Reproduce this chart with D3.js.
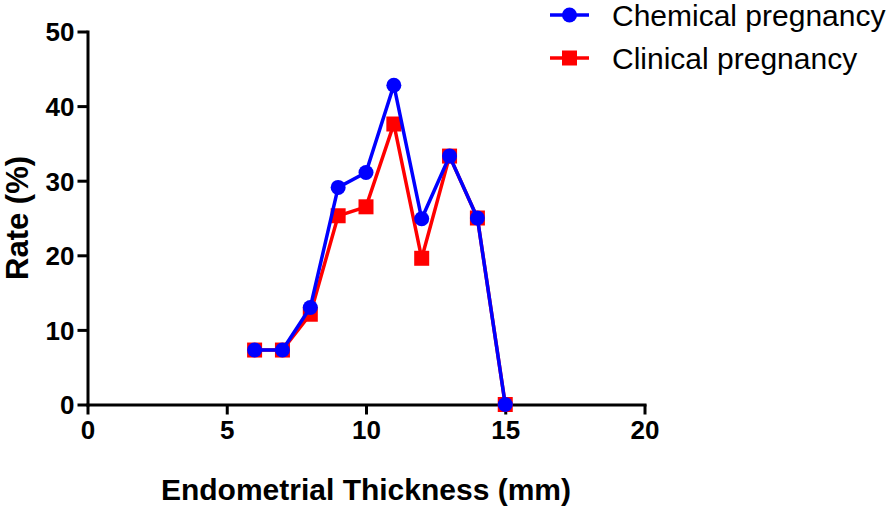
<!DOCTYPE html>
<html>
<head>
<meta charset="utf-8">
<script src="https://cdn.jsdelivr.net/npm/d3@7"></script>
<style>
  html, body { margin: 0; padding: 0; background: #fff; }
  svg { display: block; }
  text { font-family: Arial, "Liberation Sans", Helvetica, sans-serif; }
</style>
</head>
<body>
<svg id="chart" width="894" height="506"></svg>
<script>
const thickness = [6, 7, 8, 9, 10, 11, 12, 13, 14, 15];
const chemicalRate = [7.3, 7.3, 13.0, 29.1, 31.1, 42.8, 24.9, 33.3, 25.0, 0];
const clinicalRate = [7.3, 7.3, 12.1, 25.3, 26.5, 37.6, 19.6, 33.3, 25.0, 0];
const xTicks = [0, 5, 10, 15, 20];
const yTicks = [0, 10, 20, 30, 40, 50];
const seriesNames = ["Chemical pregnancy", "Clinical pregnancy"];
const seriesColors = ["#0000ff", "#ff0000"];

const svg = d3.select("#chart");
const x = d3.scaleLinear().domain([0, 20]).range([87.5, 644.5]);
const y = d3.scaleLinear().domain([0, 50]).range([404.5, 31.5]);

// axes
const xAxis = svg.append("g").attr("transform", `translate(0,${y(0)})`)
  .call(d3.axisBottom(x).tickValues(xTicks).tickSize(10).tickPadding(6).tickSizeOuter(0));
const yAxis = svg.append("g").attr("transform", `translate(${x(0)},0)`)
  .call(d3.axisLeft(y).tickValues(yTicks).tickSize(10).tickPadding(3).tickSizeOuter(0));
[xAxis, yAxis].forEach(a => {
  a.selectAll("path, line").attr("stroke", "#000").attr("stroke-width", 3);
  a.selectAll("text").attr("fill", "#000").style("font-size", "26px").style("font-weight", "bold");
});
xAxis.select("path").attr("stroke-linecap", "square");
yAxis.select("path").attr("stroke-linecap", "square");
yAxis.selectAll("text").attr("dy", "0.36em");

// titles
svg.append("text")
  .attr("x", 366).attr("y", 500)
  .attr("text-anchor", "middle")
  .style("font-size", "30px").style("font-weight", "bold")
  .text("Endometrial Thickness (mm)");
svg.append("text")
  .attr("transform", `translate(28,218) rotate(-90)`)
  .attr("text-anchor", "middle")
  .style("font-size", "31px").style("font-weight", "bold")
  .text("Rate (%)");

const line = d3.line().x(d => x(d[0])).y(d => y(d[1]));
const clin = thickness.map((t, i) => [t, clinicalRate[i]]);
const chem = thickness.map((t, i) => [t, chemicalRate[i]]);

// clinical (red, drawn first)
svg.append("path").datum(clin).attr("d", line)
  .attr("fill", "none").attr("stroke", seriesColors[1]).attr("stroke-width", 3.5);
svg.selectAll("rect.clin").data(clin).enter().append("rect")
  .attr("class", "clin")
  .attr("x", d => x(d[0]) - 7.5).attr("y", d => y(d[1]) - 7.5)
  .attr("width", 15).attr("height", 15).attr("fill", seriesColors[1]);

// chemical (blue, on top)
svg.append("path").datum(chem).attr("d", line)
  .attr("fill", "none").attr("stroke", seriesColors[0]).attr("stroke-width", 3.5);
svg.selectAll("circle.chem").data(chem).enter().append("circle")
  .attr("class", "chem")
  .attr("cx", d => x(d[0])).attr("cy", d => y(d[1]))
  .attr("r", 7.5).attr("fill", seriesColors[0]);

// legend
const legend = svg.append("g");
seriesNames.forEach((name, i) => {
  const ly = 15 + i * 43;
  const g = legend.append("g");
  g.append("line").attr("x1", 550).attr("x2", 589).attr("y1", ly).attr("y2", ly)
    .attr("stroke", seriesColors[i]).attr("stroke-width", 3.5);
  if (i === 0) {
    g.append("circle").attr("cx", 569.5).attr("cy", ly).attr("r", 7.5).attr("fill", seriesColors[i]);
  } else {
    g.append("rect").attr("x", 562).attr("y", ly - 7.5).attr("width", 15).attr("height", 15).attr("fill", seriesColors[i]);
  }
  g.append("text").attr("x", 612).attr("y", ly).attr("dy", "0.36em")
    .style("font-size", "30px").attr("fill", "#000").text(name);
});
</script>
</body>
</html>
